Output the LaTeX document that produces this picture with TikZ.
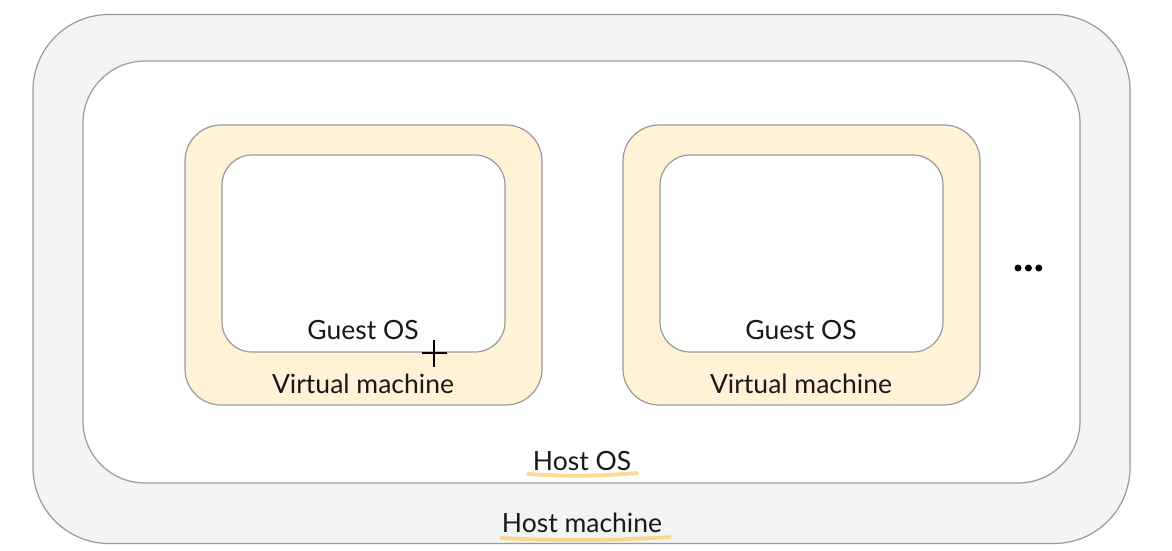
\documentclass[tikz,border=0pt]{standalone}
\usepackage{fontspec}
\setmainfont{Lato}
\usetikzlibrary{positioning}
\definecolor{boxline}{HTML}{9A9A9A}
\definecolor{hostfill}{HTML}{F4F4F4}
\definecolor{vmfill}{HTML}{FFF2D6}
\definecolor{hiliteyellow}{HTML}{F8D784}

\tikzset{
  frame/.style={draw=boxline, line width=1.2pt, rectangle},
  label text/.style={font=\fontsize{26.5}{30}\selectfont, text=black!90, inner sep=0pt},
  hilite/.style={draw=hiliteyellow, line width=3.8pt, line cap=round, opacity=0.9},
}

\begin{document}
\begin{tikzpicture}[x=1pt, y=-1pt]
        \useasboundingbox (0,0) rectangle (1172,550);
        \fill[white] (0,0) rectangle (1172,550);
        % machine and operating system
        \node[frame, fill=hostfill, rounded corners=76pt, minimum width=1097pt, minimum height=529pt] (host) at (581.5,279) {};
        \node[frame, fill=white, rounded corners=62pt, minimum width=997pt, minimum height=422pt] (hostos) at (581.5,272) {};
        % virtual machines
        \node[frame, fill=vmfill, rounded corners=36pt, minimum width=357pt, minimum height=280pt] (vmA) at (363.5,265) {};
        \node[frame, fill=white, rounded corners=30pt, minimum width=283pt, minimum height=197pt] (guestA) at (363.5,253.5) {};
        \node[frame, fill=vmfill, rounded corners=36pt, minimum width=357pt, minimum height=280pt] (vmB) at (801.5,265) {};
        \node[frame, fill=white, rounded corners=30pt, minimum width=283pt, minimum height=197pt] (guestB) at (801.5,253.5) {};
        % labels
        \node[label text] (guestAlabel) at (363,330) {Guest OS};
        \node[label text] (vmAlabel) at (363,384) {Virtual machine};
        \node[label text] (guestBlabel) at (801,330) {Guest OS};
        \node[label text] (vmBlabel) at (801,384) {Virtual machine};
        \node[label text] (hostoslabel) at (582,461) {Host OS};
        \node[label text] (hostlabel) at (582,523) {Host machine};
        % more machines
        \node[circle, fill=black, inner sep=0pt, minimum size=7pt] (dotA) at (1018,268) {};
        \node[circle, fill=black, inner sep=0pt, minimum size=7pt, right=3pt of dotA] (dotB) {};
        \node[circle, fill=black, inner sep=0pt, minimum size=7pt, right=3pt of dotB] (dotC) {};
        % highlights
        \coordinate (hlA1) at (528,474);
        \coordinate (hlA2) at (637,473);
        \coordinate (hlB1) at (501,538);
        \coordinate (hlB2) at (670,537);
        \draw[hilite] (hlA1) to[bend right=4] (hlA2);
        \draw[hilite] (hlB1) to[bend right=3] (hlB2);
        % cursor
        \coordinate (cursor) at (434,353);
        \draw[line width=1.3pt] ([xshift=-12pt]cursor) -- ([xshift=13pt]cursor);
        \draw[line width=1.3pt] ([yshift=13pt]cursor) -- ([yshift=-14pt]cursor);
\end{tikzpicture}
\end{document}
